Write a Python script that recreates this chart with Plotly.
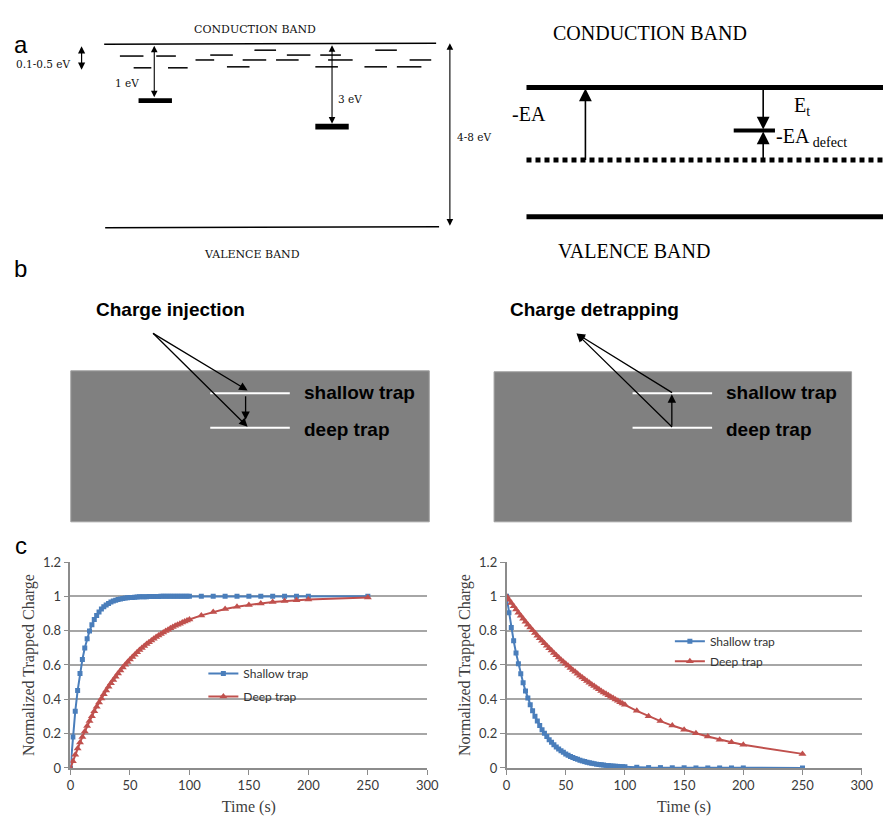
import plotly.graph_objects as go

W, H = 895, 824

# ---------------- data (panel c) ----------------
time_s = [0, 2, 4, 6, 8, 10, 12, 14, 16, 18,
          20, 22, 24, 26, 28, 30, 32, 34, 36, 38,
          40, 42, 44, 46, 48, 50, 52, 54, 56, 58,
          60, 62, 64, 66, 68, 70, 72, 74, 76, 78,
          80, 82, 84, 86, 88, 90, 92, 94, 96, 98,
          100, 110, 120, 130, 140, 150, 160, 170, 180, 190,
          200, 250]

injection_shallow = [0.000, 0.181, 0.330, 0.451, 0.551, 0.632, 0.699, 0.753, 0.798, 0.835,
                     0.865, 0.889, 0.909, 0.926, 0.939, 0.950, 0.959, 0.967, 0.973, 0.978,
                     0.982, 0.985, 0.988, 0.990, 0.992, 0.993, 0.994, 0.995, 0.996, 0.997,
                     0.998, 0.998, 0.998, 0.999, 0.999, 0.999, 0.999, 0.999, 1.000, 1.000,
                     1.000, 1.000, 1.000, 1.000, 1.000, 1.000, 1.000, 1.000, 1.000, 1.000,
                     1.000, 1.000, 1.000, 1.000, 1.000, 1.000, 1.000, 1.000, 1.000, 1.000,
                     1.000, 1.000]

injection_deep = [0.000, 0.039, 0.077, 0.113, 0.148, 0.181, 0.213, 0.244, 0.274, 0.302,
                  0.330, 0.356, 0.381, 0.405, 0.429, 0.451, 0.473, 0.493, 0.513, 0.532,
                  0.551, 0.568, 0.585, 0.601, 0.617, 0.632, 0.647, 0.660, 0.674, 0.687,
                  0.699, 0.711, 0.722, 0.733, 0.743, 0.753, 0.763, 0.772, 0.781, 0.790,
                  0.798, 0.806, 0.814, 0.821, 0.828, 0.835, 0.841, 0.847, 0.853, 0.859,
                  0.865, 0.889, 0.909, 0.926, 0.939, 0.950, 0.959, 0.967, 0.973, 0.978,
                  0.982, 0.993]

detrap_shallow = [1.000, 0.905, 0.819, 0.741, 0.670, 0.607, 0.549, 0.497, 0.449, 0.407,
                  0.368, 0.333, 0.301, 0.273, 0.247, 0.223, 0.202, 0.183, 0.165, 0.150,
                  0.135, 0.122, 0.111, 0.100, 0.091, 0.082, 0.074, 0.067, 0.061, 0.055,
                  0.050, 0.045, 0.041, 0.037, 0.033, 0.030, 0.027, 0.025, 0.022, 0.020,
                  0.018, 0.017, 0.015, 0.014, 0.012, 0.011, 0.010, 0.009, 0.008, 0.007,
                  0.007, 0.004, 0.002, 0.002, 0.001, 0.001, 0.000, 0.000, 0.000, 0.000,
                  0.000, 0.000]

detrap_deep = [1.000, 0.980, 0.961, 0.942, 0.923, 0.905, 0.887, 0.869, 0.852, 0.835,
               0.819, 0.803, 0.787, 0.771, 0.756, 0.741, 0.726, 0.712, 0.698, 0.684,
               0.670, 0.657, 0.644, 0.631, 0.619, 0.607, 0.595, 0.583, 0.571, 0.560,
               0.549, 0.538, 0.527, 0.517, 0.507, 0.497, 0.487, 0.477, 0.468, 0.458,
               0.449, 0.440, 0.432, 0.423, 0.415, 0.407, 0.399, 0.391, 0.383, 0.375,
               0.368, 0.333, 0.301, 0.273, 0.247, 0.223, 0.202, 0.183, 0.165, 0.150,
               0.135, 0.082]

series_names = ["Shallow trap", "Deep trap"]
x_ticks = [0, 50, 100, 150, 200, 250, 300]
y_ticks = [0, 0.2, 0.4, 0.6, 0.8, 1.0, 1.2]
y_tick_text = ["0", "0.2", "0.4", "0.6", "0.8", "1", "1.2"]

BLUE = "#4A7EBB"
RED = "#C0504D"


def X(px):
    return px / W


def Y(py):
    return 1 - py / H


fig = go.Figure()

# ---------------- panel c traces ----------------
fig.add_trace(go.Scatter(x=time_s, y=injection_shallow, name=series_names[0], mode="lines+markers",
                         line=dict(color=BLUE, width=2), marker=dict(symbol="square", size=5, color=BLUE),
                         xaxis="x", yaxis="y", legend="legend", legendgroup="a1"))
fig.add_trace(go.Scatter(x=time_s, y=injection_deep, name=series_names[1], mode="lines+markers",
                         line=dict(color=RED, width=2), marker=dict(symbol="triangle-up", size=7, color=RED),
                         xaxis="x", yaxis="y", legend="legend", legendgroup="a2"))
fig.add_trace(go.Scatter(x=time_s, y=detrap_shallow, name=series_names[0], mode="lines+markers",
                         line=dict(color=BLUE, width=2), marker=dict(symbol="square", size=5, color=BLUE),
                         xaxis="x2", yaxis="y2", legend="legend2", legendgroup="b1"))
fig.add_trace(go.Scatter(x=time_s, y=detrap_deep, name=series_names[1], mode="lines+markers",
                         line=dict(color=RED, width=2), marker=dict(symbol="triangle-up", size=7, color=RED),
                         xaxis="x2", yaxis="y2", legend="legend2", legendgroup="b2"))

TICKFONT = dict(family="Lato, Open Sans, sans-serif", size=13, color="#3a3a3a")
TITLEFONT = dict(family="Liberation Serif, Times New Roman, serif", size=16, color="#404040")
AXCOL = "#8c8c8c"
GRIDCOL = "#a6a6a6"


def xax(domain, anchor):
    return dict(domain=domain, range=[0, 300], tickvals=x_ticks, ticks="outside", ticklen=5,
                tickcolor=AXCOL, tickwidth=1.3, showline=True, linecolor=AXCOL, linewidth=1.5,
                showgrid=False, zeroline=False, tickfont=TICKFONT, anchor=anchor,
                title=dict(text="Time (s)", font=TITLEFONT, standoff=8), fixedrange=True)


def yax(domain, anchor):
    return dict(domain=domain, range=[0, 1.2], tickvals=y_ticks, ticktext=y_tick_text, ticks="outside",
                ticklen=5, tickcolor=AXCOL, tickwidth=1.3, showline=True, linecolor=AXCOL, linewidth=1.5,
                showgrid=True, gridcolor=GRIDCOL, gridwidth=1.5, zeroline=False, tickfont=TICKFONT,
                anchor=anchor,
                title=dict(text="Normalized Trapped Charge", font=TITLEFONT, standoff=4), fixedrange=True)


shapes = []
annotations = []


def seg(x0, y0, x1, y1, width=1, color="black", dash=None):
    ln = dict(color=color, width=width)
    if dash:
        ln["dash"] = dash
    shapes.append(dict(type="line", xref="paper", yref="paper", x0=X(x0), y0=Y(y0), x1=X(x1), y1=Y(y1),
                       line=ln, layer="above"))


def rect(x0, y0, x1, y1, fill, linecolor=None, lw=0):
    shapes.append(dict(type="rect", xref="paper", yref="paper", x0=X(x0), y0=Y(y0), x1=X(x1), y1=Y(y1),
                       fillcolor=fill, line=dict(color=linecolor or fill, width=lw), layer="below"))


def arrow(tx0, ty0, tipx, tipy, width=1, size=1, head=2, side="end"):
    annotations.append(dict(xref="paper", yref="paper", x=X(tipx), y=Y(tipy), ax=tx0 - tipx, ay=ty0 - tipy,
                            axref="pixel", ayref="pixel", showarrow=True, text="", arrowhead=head,
                            startarrowhead=head, arrowsize=size, startarrowsize=size,
                            arrowwidth=width, arrowcolor="black", arrowside=side, standoff=0, startstandoff=0))


def text(x, y, s, size, family, anchor="center", color="black", bold=False):
    if bold:
        s = "<b>" + s + "</b>"
    annotations.append(dict(xref="paper", yref="paper", x=X(x), y=Y(y), text=s, showarrow=False,
                            xanchor=anchor, yanchor="middle",
                            font=dict(size=size, family=family, color=color)))


SERIF_OLD = "DejaVu Serif, serif"
SERIF = "Liberation Serif, Times New Roman, serif"
SANS = "Liberation Sans, Arial, sans-serif"

# ---------------- panel labels ----------------
text(17, 37, "a", 24, SANS)
text(17, 266, "b", 24, SANS)
text(17, 548, "c", 24, SANS)

# ---------------- panel a, left ----------------
text(256, 22, "CONDUCTION BAND", 11, SERIF_OLD, color="#111111")
text(253, 251, "VALENCE BAND", 11, SERIF_OLD, color="#111111")
seg(102, 37, 440, 36, width=1.5)
seg(103, 224, 443, 223, width=1.5)
trap_levels = [
    (118, 142, 49), (155, 175, 49), (210, 233, 48), (288, 312, 48), (322, 343, 48),
    (255, 277, 43), (378, 400, 43),
    (195, 214, 53), (243, 267, 53), (277, 300, 53), (330, 355, 53), (413, 435, 53),
    (132, 150, 61), (167, 187, 61), (227, 250, 60), (317, 340, 60), (367, 390, 60), (400, 425, 60),
]
for (a0, a1, yy) in trap_levels:
    seg(a0, yy, a1, yy, width=1.5)
arrow(79, 38, 79, 63, width=1.2, size=1.2, side="end+start")
text(40, 57, "0.1-0.5 eV", 10.5, SERIF_OLD, color="#111111")
arrow(153, 38, 153, 91, width=1.1, size=1.2, side="end+start")
rect(137, 92, 171, 97, "black")
text(125, 76, "1 eV", 10.5, SERIF_OLD, color="#111111")
arrow(334, 38, 334, 118, width=1.1, size=1.2, side="end+start")
rect(317, 118, 351, 124, "black")
text(352, 93, "3 eV", 10.5, SERIF_OLD, color="#111111")
arrow(454, 38, 454, 222, width=1.1, size=1.2, side="end+start")
text(459, 132, "4-8 eV", 10.5, SERIF_OLD, anchor="left", color="#111111")

# ---------------- panel a, right ----------------
text(658, 25, "CONDUCTION BAND", 20, SERIF)
text(641, 248, "VALENCE BAND", 20, SERIF)
seg(532, 81, 895, 81, width=5)
seg(532, 155, 895, 155, width=5, dash="5px,4px")
seg(532, 213, 895, 213, width=5)
arrow(592, 155, 592, 82, width=1.6, size=1.6)
text(515, 108, "-EA", 20, SERIF, anchor="left")
arrow(773, 82, 773, 124, width=1.6, size=1.6)
arrow(773, 155, 773, 126, width=1.6, size=1.6)
seg(743, 125, 785, 125, width=4)
text(802, 100, "E<sub>t</sub>", 20, SERIF, anchor="left")
text(784, 132, "-EA<sub> defect</sub>", 20, SERIF, anchor="left")

# ---------------- panel b ----------------
GRAY = "#808080"
rect(68, 370, 433, 524, GRAY, "#a0a0a0", 1)
rect(499, 371, 863, 524, GRAY, "#a0a0a0", 1)
# left
text(170, 307, "Charge injection", 19, SANS, bold=True)
seg(210, 393, 291, 393, width=2, color="white")
seg(210, 428, 291, 428, width=2, color="white")
arrow(152, 332, 248, 390, width=1.3, size=1.3)
arrow(152, 332, 248, 427, width=1.3, size=1.3)
arrow(246, 395, 246, 420, width=1.3, size=1.3)
text(303, 392, "shallow trap", 19, SANS, anchor="left", bold=True)
text(303, 430, "deep trap", 19, SANS, anchor="left", bold=True)
# right
text(601, 307, "Charge detrapping", 19, SANS, bold=True)
seg(640, 393, 721, 393, width=2, color="white")
seg(640, 428, 721, 428, width=2, color="white")
arrow(680, 427, 583, 332, width=1.3, size=1.3)
arrow(680, 392, 583, 332, width=1.3, size=1.3)
arrow(680, 427, 680, 394, width=1.3, size=1.3)
text(733, 392, "shallow trap", 19, SANS, anchor="left", bold=True)
text(733, 430, "deep trap", 19, SANS, anchor="left", bold=True)

LEGFONT = dict(family="Lato, Open Sans, sans-serif", size=12, color="#333333")

fig.update_layout(
    width=W, height=H,
    margin=dict(l=0, r=0, t=0, b=0),
    paper_bgcolor="white", plot_bgcolor="white",
    xaxis=xax([X(67.7), X(431)], "y"),
    yaxis=yax([Y(775), Y(565)], "x"),
    xaxis2=xax([X(511.7), X(873.3)], "y2"),
    yaxis2=yax([Y(775), Y(565)], "x2"),
    legend=dict(x=X(203), y=Y(664), xanchor="left", yanchor="top", bgcolor="rgba(0,0,0,0)",
                font=LEGFONT, itemwidth=30, tracegroupgap=4),
    legend2=dict(x=X(678), y=Y(631), xanchor="left", yanchor="top", bgcolor="rgba(0,0,0,0)",
                 font=LEGFONT, itemwidth=30, tracegroupgap=1),
    shapes=shapes,
    annotations=annotations,
    showlegend=True,
)

fig.write_html("out.html")
